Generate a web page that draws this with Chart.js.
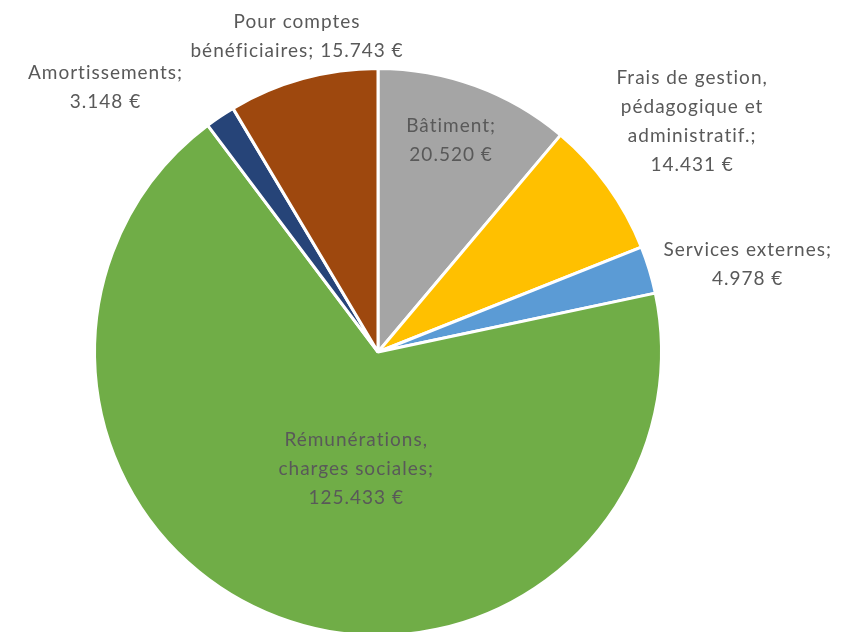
<!DOCTYPE html>
<html>
<head>
<meta charset="utf-8">
<script src="https://cdn.jsdelivr.net/npm/chart.js@4.4.1/dist/chart.umd.min.js"></script>
<style>
    html, body { margin: 0; padding: 0; background: #fff; overflow: hidden; }
    #wrap { width: 847px; height: 700px; }
</style>
</head>
<body>
<div id="wrap"><canvas id="pie" width="847" height="700"></canvas></div>
<script>
// data, clockwise from 12 o'clock
const categories = [
    ['Bâtiment'],
    ['Frais de gestion,', 'pédagogique et', 'administratif.'],
    ['Services externes'],
    ['Rémunérations,', 'charges sociales'],
    ['Amortissements'],
    ['Pour comptes', 'bénéficiaires']
];
const values = [20520, 14431, 4978, 125433, 3148, 15743];
const colors = ['#A5A5A5', '#FFC000', '#5B9BD5', '#70AD47', '#264478', '#9E480E'];

function formatEuro(v) {
    return String(v).replace(/\B(?=(\d{3})+(?!\d))/g, '.') + ' €';
}

// where each label sits: radius factor, angle nudge (deg), value on same line
const placement = [
    { k: 0.79, da: -1, inline: false },
    { k: 1.375, da: -0.5, inline: false },
    { k: 1.34, da: 3.5, inline: false },
    { k: 0.42, da: -10, inline: false },
    { k: 1.34, da: -12, inline: false },
    { k: 1.15, da: 1, inline: true }
];

const labelPlugin = {
    id: 'pieLabels',
    afterDatasetsDraw(chart) {
        const ctx = chart.ctx;
        const meta = chart.getDatasetMeta(0);
        ctx.save();
        ctx.font = '19px Lato';
        ctx.letterSpacing = '1px';
        ctx.fillStyle = '#595959';
        ctx.textAlign = 'center';
        ctx.textBaseline = 'middle';
        meta.data.forEach(function(arc, i) {
            const p = placement[i];
            const mid = (arc.startAngle + arc.endAngle) / 2 + p.da * Math.PI / 180;
            const r = arc.outerRadius * p.k;
            const x = arc.x + Math.cos(mid) * r;
            const y = arc.y + Math.sin(mid) * r;
            const lines = categories[i].slice();
            const last = lines.length - 1;
            lines[last] = lines[last] + ';';
            if (p.inline) {
                lines[last] = lines[last] + ' ' + formatEuro(values[i]);
            } else {
                lines.push(formatEuro(values[i]));
            }
            const lh = 29;
            const top = y - (lines.length - 1) * lh / 2;
            lines.forEach(function(line, j) {
                ctx.fillText(line, x, top + j * lh);
            });
        });
        ctx.restore();
    }
};

new Chart(document.getElementById('pie'), {
    type: 'pie',
    data: {
        labels: categories.map(function(c) { return c.join(' '); }),
        datasets: [{
            data: values,
            backgroundColor: colors,
            borderColor: '#ffffff',
            borderWidth: 3
        }]
    },
    options: {
        responsive: false,
        animation: false,
        layout: { padding: { left: 93, right: 184, top: 67, bottom: 63 } },
        plugins: {
            legend: { display: false },
            tooltip: { enabled: false }
        }
    },
    plugins: [labelPlugin]
});
</script>
</body>
</html>
